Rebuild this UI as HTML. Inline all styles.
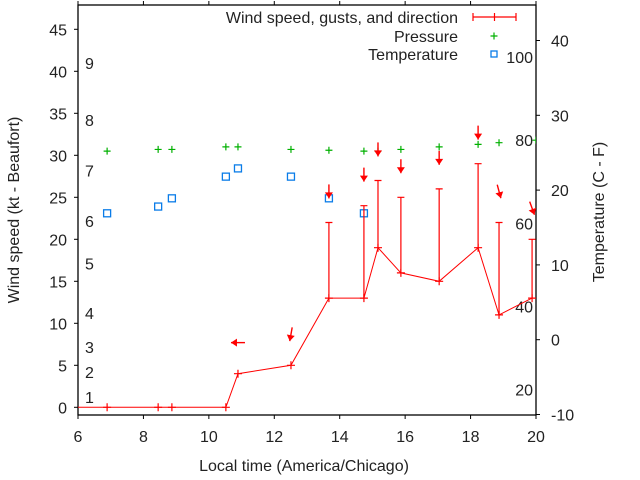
<!DOCTYPE html>
<html><head><meta charset="utf-8"><style>
html,body{margin:0;padding:0;background:#fff;}
svg{display:block;font-family:"Liberation Sans",sans-serif;}
</style></head><body>
<svg id="chart" width="640" height="480" viewBox="0 0 640 480"></svg>
<script>
// ---- data ----
const hours    = [5.5, 6.89, 8.45, 8.87, 10.52, 10.89, 12.51, 13.67, 14.74, 15.17, 15.87, 17.04, 18.23, 18.87, 19.88];
const windKt   = [0, 0, 0, 0, 0, 4, 5, 13, 13, 19, 16, 15, 19, 11, 13];
const gustKt   = [null, null, null, null, null, null, null, 22, 24, 27, 25, 26, 29, 22, 20];
const windDir  = [null, null, null, null, null, 90, 10, 0, 0, 0, 0, 0, 0, 345, 340];
const presHours = [6.89, 8.45, 8.87, 10.52, 10.89, 12.51, 13.67, 14.74, 15.17, 15.87, 17.04, 18.23, 18.87, 20.0];
const pressure  = [30.5, 30.7, 30.7, 31.0, 31.0, 30.7, 30.6, 30.5, 30.5, 30.7, 31.0, 31.3, 31.5, 31.8];
const tempHours = [6.89, 8.45, 8.87, 10.52, 10.89, 12.51, 13.67, 14.74];
const tempC     = [16.9, 17.8, 18.9, 21.8, 22.9, 21.8, 18.9, 16.9];
const xTicks = [6, 8, 10, 12, 14, 16, 18, 20];
const yTicks = [0, 5, 10, 15, 20, 25, 30, 35, 40, 45];
const cTicks = [-10, 0, 10, 20, 30, 40];
const beaufortLabels = ["1","2","3","4","5","6","7","8","9"];
const beaufortKt = [1.2, 4.2, 7.2, 11.2, 17.1, 22.2, 28.2, 34.2, 41.0];
const fLabels = [20, 40, 60, 80, 100];

// ---- axes ----
const L=78, R=536, T=5, B=415;
const X = h => L + (h-6)*(R-L)/14;
const Y = v => 407.3 - v*8.4;
const YC = c => 414.5 - (c+10)*7.48;
const ns="http://www.w3.org/2000/svg";
const svg=document.getElementById('chart');
function mk(tag, attrs, parent){const e=document.createElementNS(ns,tag);for(const k in attrs)e.setAttribute(k,attrs[k]);(parent||svg).appendChild(e);return e;}
function txt(s,x,y,anchor,size,parent){const e=mk('text',{x:x,y:y,'text-anchor':anchor,'font-size':size||16,fill:'#222'},parent);e.textContent=s;return e;}

const defs=mk('defs',{});
const cp=mk('clipPath',{id:'plotclip'},defs);
mk('rect',{x:L,y:T,width:R-L,height:B-T},cp);

const frame=mk('rect',{x:L,y:T,width:R-L,height:B-T,fill:'none',stroke:'#000','stroke-width':1.3});



xTicks.forEach(h=>{
  const x=X(h);
  const t=mk('line',{x1:x,y1:B,x2:x,y2:B+4,stroke:'#000'});
  
  
  mk('line',{x1:x,y1:T,x2:x,y2:T-4,stroke:'#000'});
  const l=txt(String(h),x,442,'middle',16);
  
  
});
yTicks.forEach(v=>{
  const y=Y(v);
  mk('line',{x1:L,y1:y,x2:L-4,y2:y,stroke:'#000'});
  const l=txt(String(v),67,y+6,'end',16);
  
  
});
cTicks.forEach(c=>{
  const y=YC(c);
  mk('line',{x1:R,y1:y,x2:R+4,y2:y,stroke:'#000'});
  const l=txt(String(c),551,y+6,'start',16);
  
  
});
beaufortLabels.forEach((s,i)=>{
  const l=txt(s,85,Y(beaufortKt[i])+6,'start',16);
  
  
});
fLabels.forEach(f=>{
  const c=(f-32)*5/9;
  const l=txt(String(f),533,YC(c)+6,'end',16);
  
  
});

const xt=txt('Local time (America/Chicago)',304,471,'middle',16);


const yt=txt('Wind speed (kt - Beaufort)',0,0,'middle',16);
yt.setAttribute('transform','translate(19,210) rotate(-90)');


const y2=txt('Temperature (C - F)',0,0,'middle',16);
y2.setAttribute('transform','translate(604,212) rotate(-90)');



const g=mk('g',{'clip-path':'url(#plotclip)'});



function plus(x,y,color,parent,s){s=s||3.5;mk('path',{d:`M${x-s} ${y}H${x+s}M${x} ${y-s}V${y+s}`,stroke:color,'stroke-width':1.2,fill:'none'},parent);}

pressure.forEach((p,i)=>{
  const gp=mk('g',{},g);
  
  
  plus(X(presHours[i]),Y(p),'#00b000',gp,3.5);
});
tempC.forEach((c,i)=>{
  const r=mk('rect',{x:X(tempHours[i])-3.5,y:YC(c)-3.5,width:7,height:7,fill:'none',stroke:'#0a7ce8','stroke-width':1.3},g);
  
  
});
const pts=hours.map((h,i)=>X(h)+','+Y(windKt[i])).join(' ');
const wl=mk('polyline',{points:pts,fill:'none',stroke:'#f00','stroke-width':1},g);


hours.forEach((h,i)=>{
  const x=X(h), y=Y(windKt[i]);
  const gp=mk('g',{},g);
  
  
  plus(x,y,'#f00',gp,4);
  if(gustKt[i]!=null){
    const yg=Y(gustKt[i]);
    mk('path',{d:`M${x} ${y}V${yg}M${x-3.5} ${yg}H${x+3.5}`,stroke:'#f00','stroke-width':1.2,fill:'none'},gp);
  }
  if(windDir[i]!=null){
    const top=Math.max(windKt[i], gustKt[i]==null?windKt[i]:gustKt[i]);
    const cy=Y(top+3.7), rad=windDir[i]*Math.PI/180;
    const dx=-Math.sin(rad), dy=Math.cos(rad);
    const len=7;
    const tx=x-dx*len, ty=cy-dy*len, hx=x+dx*len, hy=cy+dy*len;
    const a=mk('g',{},g);
    
    
    mk('line',{x1:tx,y1:ty,x2:hx,y2:hy,stroke:'#f00','stroke-width':1.4},a);
    const px=-dy, py=dx;
    const bx=hx-dx*6, by=hy-dy*6;
    mk('polygon',{points:`${hx},${hy} ${bx+px*4},${by+py*4} ${bx-px*4},${by-py*4}`,fill:'#f00'},a);
  }
});

const lg=mk('g',{});


const e1=mk('g',{},lg);


txt('Wind speed, gusts, and direction',458,23,'end',16,e1);
mk('path',{d:'M473 17H516M473 13V21M516 13V21M494.5 13V21',stroke:'#f00','stroke-width':1.2,fill:'none'},e1);
const e2=mk('g',{},lg);


txt('Pressure',458,42,'end',16,e2);
plus(494,36,'#00b000',e2,3.5);
const e3=mk('g',{},lg);


txt('Temperature',458,60,'end',16,e3);
mk('rect',{x:491,y:51,width:6,height:6,fill:'none',stroke:'#0a7ce8','stroke-width':1.3},e3);
</script>
</body></html>
